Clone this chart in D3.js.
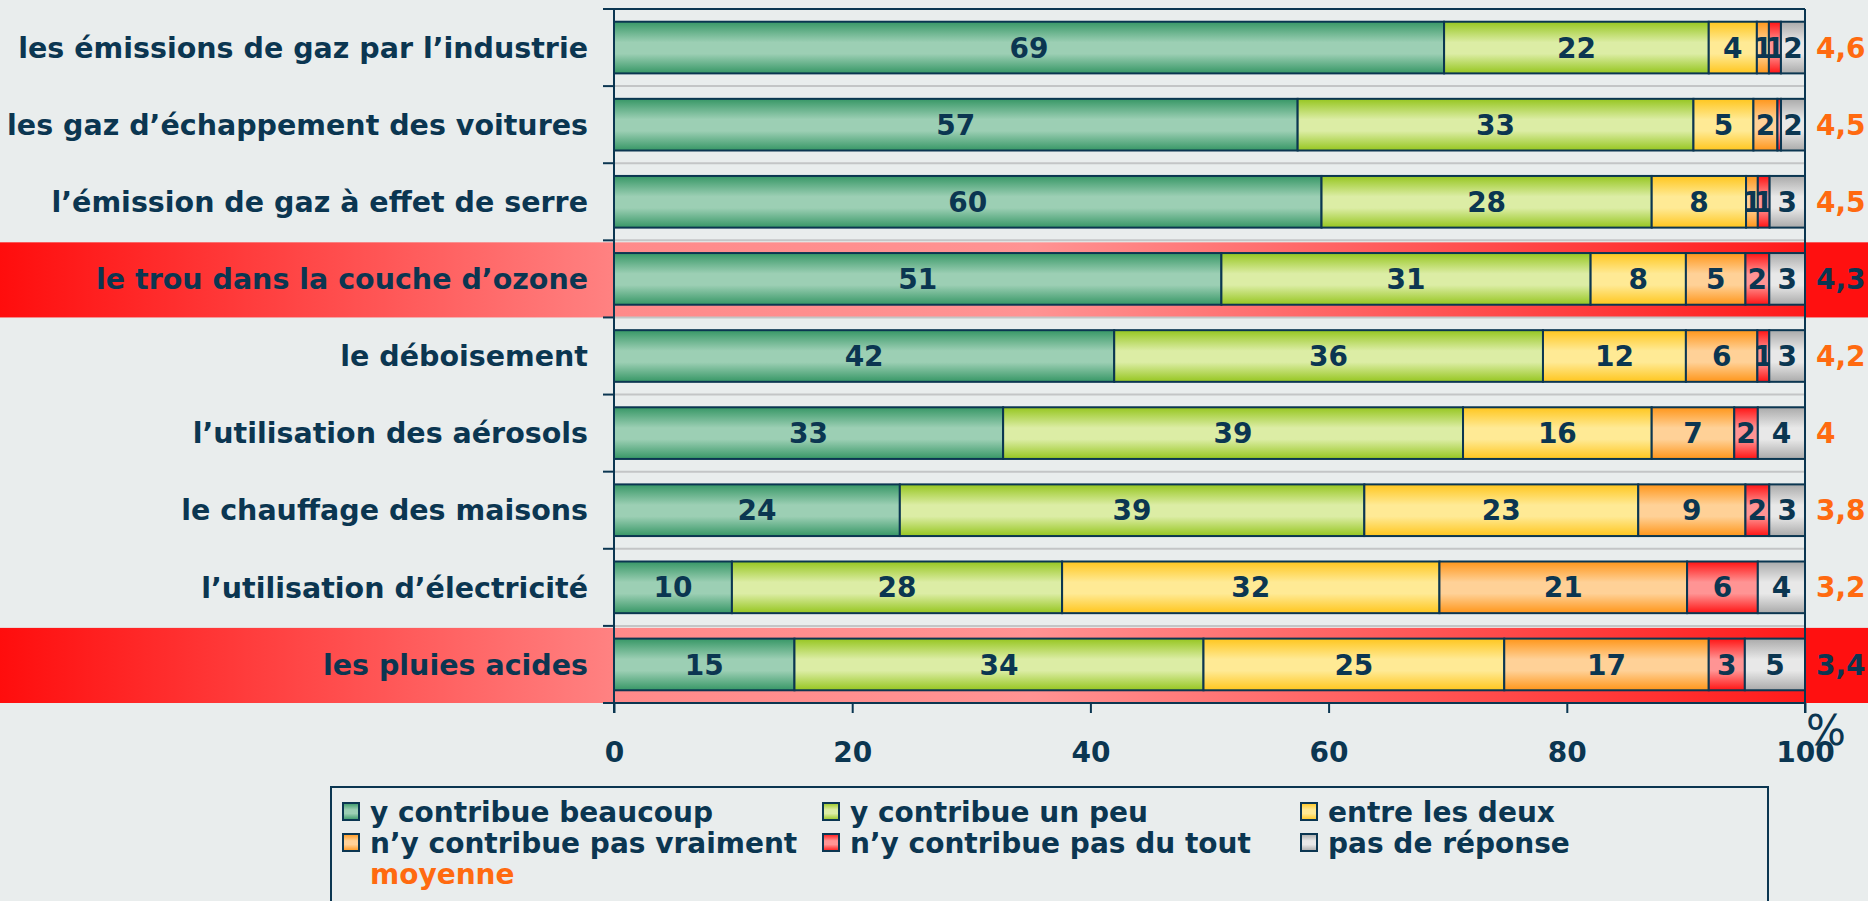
<!DOCTYPE html>
<html>
<head>
<meta charset="utf-8">
<script src="https://cdn.jsdelivr.net/npm/d3@7"></script>
<style>
  body { margin: 0; background: #e9eded; }
  svg { display: block; font-family: "DejaVu Sans", Verdana, sans-serif; font-weight: bold; }
</style>
</head>
<body>
<div id="chart"></div>
<script>

const categories = [
  "les émissions de gaz par l’industrie",
  "les gaz d’échappement des voitures",
  "l’émission de gaz à effet de serre",
  "le trou dans la couche d’ozone",
  "le déboisement",
  "l’utilisation des aérosols",
  "le chauffage des maisons",
  "l’utilisation d’électricité",
  "les pluies acides"
];

const seriesNames = [
  "y contribue beaucoup",
  "y contribue un peu",
  "entre les deux",
  "n’y contribue pas vraiment",
  "n’y contribue pas du tout",
  "pas de réponse"
];

// percentages per category (same order as categories)
const beaucoup     = [69, 57, 60, 51, 42, 33, 24, 10, 15];
const unPeu        = [22, 33, 28, 31, 36, 39, 39, 28, 34];
const entreLesDeux = [4, 5, 8, 8, 12, 16, 23, 32, 25];
const pasVraiment  = [1, 2, 1, 5, 6, 7, 9, 21, 17];
const pasDuTout    = [1, 0.3, 1, 2, 1, 2, 2, 6, 3];
const pasDeReponse = [2, 2, 3, 3, 3, 4, 3, 4, 5];

const moyennes = [4.6, 4.5, 4.5, 4.3, 4.2, 4, 3.8, 3.2, 3.4];
const highlighted = ["le trou dans la couche d’ozone", "les pluies acides"];
const xTicks = [0, 20, 40, 60, 80, 100];

const seriesValues = [beaucoup, unPeu, entreLesDeux, pasVraiment, pasDuTout, pasDeReponse];

// gradient colours : edge / centre
const colors = [
  ["#379766", "#9ccfb4"],
  ["#96c620", "#dceda5"],
  ["#ffc61e", "#ffea95"],
  ["#ff961a", "#ffd197"],
  ["#ff1414", "#ff9494"],
  ["#aaaaaa", "#e8e8e8"]
];

const ink = "#0b3651";
const orange = "#ff6a10";

const data = categories.map((c, i) => {
  const row = { category: c };
  seriesNames.forEach((s, j) => row[s] = seriesValues[j][i]);
  return row;
});

const width = 1868;
const height = 901;
const plotLeft = 614, plotRight = 1805, plotTop = 9, plotBottom = 703;

const series = d3.stack()
  .keys(seriesNames)
  .offset(d3.stackOffsetExpand)(data);

const x = d3.scaleLinear().domain([0, 1]).range([plotLeft, plotRight]);

const rowBand = d3.scaleBand().domain(categories).range([plotTop, plotBottom]);
const y = rowBand.copy().paddingInner(0.33).paddingOuter(0.165);

const frFormat = d3.formatLocale({ decimal: ",", thousands: " ", grouping: [3], currency: ["", " €"] }).format("~g");

const svg = d3.select("#chart").append("svg")
  .attr("width", width)
  .attr("height", height);

const defs = svg.append("defs");

colors.forEach((c, i) => {
  const g = defs.append("linearGradient")
    .attr("id", "grad" + i)
    .attr("x1", 0).attr("x2", 0).attr("y1", 0).attr("y2", 1);
  g.append("stop").attr("offset", "0%").attr("stop-color", c[0]);
  g.append("stop").attr("offset", "40%").attr("stop-color", c[1]);
  g.append("stop").attr("offset", "62%").attr("stop-color", c[1]);
  g.append("stop").attr("offset", "100%").attr("stop-color", c[0]);
});

// highlight gradients
const hlLeft = defs.append("linearGradient").attr("id", "hlLeft")
  .attr("gradientUnits", "userSpaceOnUse").attr("x1", 0).attr("x2", plotLeft).attr("y1", 0).attr("y2", 0);
hlLeft.append("stop").attr("offset", "0%").attr("stop-color", "#ff0d0d");
hlLeft.append("stop").attr("offset", "100%").attr("stop-color", "#ff8282");

const hlPlot = defs.append("linearGradient").attr("id", "hlPlot")
  .attr("gradientUnits", "userSpaceOnUse").attr("x1", plotLeft).attr("x2", plotRight).attr("y1", 0).attr("y2", 0);
hlPlot.append("stop").attr("offset", "0%").attr("stop-color", "#ff8a8a");
hlPlot.append("stop").attr("offset", "35%").attr("stop-color", "#ff9393");
hlPlot.append("stop").attr("offset", "100%").attr("stop-color", "#ff1a1a");

// highlighted rows
const hl = svg.append("g")
  .selectAll("g")
  .data(highlighted)
  .join("g");

hl.append("rect")
  .attr("x", 0).attr("width", plotLeft)
  .attr("y", d => rowBand(d) + 2).attr("height", rowBand.step() - 2)
  .attr("fill", "url(#hlLeft)");
hl.append("rect")
  .attr("x", plotLeft).attr("width", plotRight - plotLeft)
  .attr("y", d => rowBand(d) + 2).attr("height", rowBand.step() - 2)
  .attr("fill", "url(#hlPlot)");
hl.append("rect")
  .attr("x", plotRight).attr("width", width - plotRight)
  .attr("y", d => rowBand(d) + 2).attr("height", rowBand.step() - 2)
  .attr("fill", "#ff1010");

// grid lines between categories
svg.append("g")
  .selectAll("line")
  .data(categories.slice(1))
  .join("line")
  .attr("x1", plotLeft).attr("x2", plotRight)
  .attr("y1", d => rowBand(d)).attr("y2", d => rowBand(d))
  .attr("stroke", "#c3c5c6")
  .attr("stroke-width", 2);

// bars
const layer = svg.append("g")
  .selectAll("g")
  .data(series)
  .join("g")
  .attr("fill", (d, i) => `url(#grad${i})`);

layer.selectAll("rect")
  .data(D => D.map(d => (d.key = D.key, d)))
  .join("rect")
  .attr("x", d => x(d[0]))
  .attr("width", d => x(d[1]) - x(d[0]))
  .attr("y", d => y(d.data.category))
  .attr("height", y.bandwidth())
  .attr("stroke", ink)
  .attr("stroke-width", 2);

// values in bars
layer.selectAll("text")
  .data(D => D.filter(d => d.data[D.key] >= 0.5))
  .join("text")
  .attr("x", d => (x(d[0]) + x(d[1])) / 2)
  .attr("y", d => y(d.data.category) + y.bandwidth() / 2)
  .attr("dy", "0.36em")
  .attr("text-anchor", "middle")
  .attr("fill", ink)
  .attr("font-size", 28)
  .text(d => Math.round(d.data[d.key]));

// frame : top and right
svg.append("line")
  .attr("x1", plotLeft - 11).attr("x2", plotRight)
  .attr("y1", plotTop).attr("y2", plotTop)
  .attr("stroke", ink).attr("stroke-width", 2);
svg.append("line")
  .attr("x1", plotRight).attr("x2", plotRight)
  .attr("y1", plotTop).attr("y2", plotBottom + 10)
  .attr("stroke", ink).attr("stroke-width", 2);

// left axis with ticks at category boundaries
svg.append("line")
  .attr("x1", plotLeft).attr("x2", plotLeft)
  .attr("y1", plotTop).attr("y2", plotBottom + 10)
  .attr("stroke", ink).attr("stroke-width", 2);
svg.append("g")
  .selectAll("line")
  .data(categories.slice(1).map(d => rowBand(d)).concat([plotBottom]))
  .join("line")
  .attr("x1", plotLeft - 11).attr("x2", plotLeft)
  .attr("y1", d => d).attr("y2", d => d)
  .attr("stroke", ink).attr("stroke-width", 2);

svg.append("g")
  .selectAll("text")
  .data(categories)
  .join("text")
  .attr("x", plotLeft - 26)
  .attr("y", d => y(d) + y.bandwidth() / 2)
  .attr("dy", "0.36em")
  .attr("text-anchor", "end")
  .attr("fill", ink)
  .attr("font-size", 28.5)
  .text(d => d);

// bottom axis
const xAxis = svg.append("g")
  .attr("transform", `translate(0,${plotBottom})`)
  .call(d3.axisBottom(x)
    .tickValues(xTicks.map(t => t / 100))
    .tickSize(10)
    .tickSizeOuter(0)
    .tickPadding(29)
    .tickFormat(d => Math.round(d * 100)));

xAxis.select(".domain").attr("stroke", ink).attr("stroke-width", 2)
  .attr("d", `M${plotLeft - 11},0H${plotRight}`);
xAxis.selectAll(".tick line").attr("stroke", ink).attr("stroke-width", 2);
xAxis.selectAll(".tick text")
  .attr("fill", ink)
  .attr("font-size", 28)
  .attr("font-family", "DejaVu Sans, Verdana, sans-serif")
  .attr("font-weight", "bold");

svg.append("text")
  .attr("x", plotRight + 1)
  .attr("y", 745)
  .attr("fill", ink)
  .attr("font-size", 42)
  .attr("font-weight", "normal")
  .text("%");

// averages
svg.append("g")
  .selectAll("text")
  .data(categories)
  .join("text")
  .attr("x", plotRight + 11)
  .attr("y", d => y(d) + y.bandwidth() / 2)
  .attr("dy", "0.36em")
  .attr("fill", d => highlighted.includes(d) ? ink : orange)
  .attr("font-size", 28)
  .text((d, i) => frFormat(moyennes[i]));

// legend
const legend = svg.append("g");
legend.append("rect")
  .attr("x", 331).attr("y", 787)
  .attr("width", 1437).attr("height", 140)
  .attr("fill", "none")
  .attr("stroke", ink)
  .attr("stroke-width", 2);

const legendCols = [343, 823, 1301];
const legendItems = legend.selectAll("g.item")
  .data(seriesNames)
  .join("g")
  .attr("class", "item")
  .attr("transform", (d, i) => `translate(${legendCols[i % 3]},${822 + Math.floor(i / 3) * 31})`);

legendItems.append("rect")
  .attr("x", 0).attr("y", -19)
  .attr("width", 16).attr("height", 17)
  .attr("fill", (d, i) => `url(#grad${i})`)
  .attr("stroke", ink)
  .attr("stroke-width", 2);

legendItems.append("text")
  .attr("x", 27)
  .attr("fill", ink)
  .attr("font-size", 28)
  .text(d => d);

legend.append("text")
  .attr("x", 370)
  .attr("y", 884)
  .attr("fill", orange)
  .attr("font-size", 28)
  .text("moyenne");

</script>
</body>
</html>
